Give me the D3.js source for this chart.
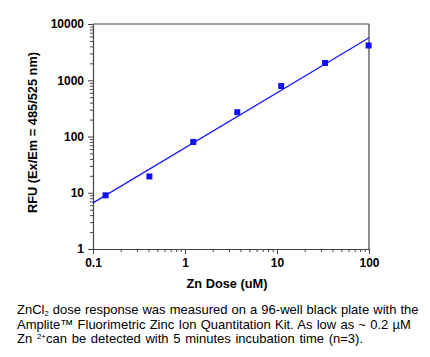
<!DOCTYPE html>
<html><head><meta charset="utf-8">
<script src="https://cdn.jsdelivr.net/npm/d3@7"></script>
<style>
html,body{margin:0;padding:0;background:#fff;}
svg{display:block;}
</style></head>
<body>
<svg id="chart" width="430" height="357"></svg>
<script>
// Data
const doses = [0.137, 0.41, 1.23, 3.7, 11.1, 33.3, 99];
const rfu = [9, 19.5, 80, 270, 790, 2030, 4150];
const fitDoses = [0.1, 100];
const fitRfu = [6.6, 5700];
const xTickValues = [0.1, 1, 10, 100];
const yTickValues = [1, 10, 100, 1000, 10000];
const xTitle = "Zn Dose (uM)";
const yTitle = "RFU (Ex/Em = 485/525 nm)";

const svg = d3.select("#chart");
const L = 93, R = 369, T = 24, B = 249;
const x = d3.scaleLog().domain([0.1, 100]).range([L, R]);
const y = d3.scaleLog().domain([1, 10000]).range([B, T]);
const axisColor = "#444";
const font = "Arial, 'Liberation Sans', sans-serif";

function minors(dom) {
  const out = [];
  for (let e = Math.log10(dom[0]); e < Math.log10(dom[1]); e++) {
    for (let k = 2; k <= 9; k++) out.push(k * Math.pow(10, e));
  }
  return out;
}

// frame top/right
svg.append("line").attr("x1", L).attr("x2", R).attr("y1", T).attr("y2", T)
  .attr("stroke", axisColor).attr("stroke-width", 1.2);
svg.append("line").attr("x1", R).attr("x2", R).attr("y1", T).attr("y2", B)
  .attr("stroke", axisColor).attr("stroke-width", 1.2);

// x axis
const gx = svg.append("g").attr("transform", `translate(0,${B})`);
gx.call(d3.axisBottom(x).tickValues(xTickValues).tickFormat(d => d3.format("~g")(d)).tickSize(5).tickPadding(4).tickSizeOuter(0));
gx.append("g").call(d3.axisBottom(x).tickValues(minors([0.1, 100])).tickFormat("").tickSize(3).tickSizeOuter(0))
  .select(".domain").remove();

// y axis
const gy = svg.append("g").attr("transform", `translate(${L},0)`);
gy.call(d3.axisLeft(y).tickValues(yTickValues).tickFormat(d => d3.format("d")(d)).tickSize(5).tickPadding(4).tickSizeOuter(0));
gy.append("g").call(d3.axisLeft(y).tickValues(minors([1, 10000])).tickFormat("").tickSize(3).tickSizeOuter(0))
  .select(".domain").remove();

svg.selectAll(".domain").attr("stroke", axisColor).attr("stroke-width", 1.2);
svg.selectAll(".tick line").attr("stroke", axisColor);
svg.selectAll(".tick text").attr("font-family", font).attr("font-weight", "bold")
  .attr("font-size", 12).attr("fill", "#000");

// fit line
svg.append("line")
  .attr("x1", x(fitDoses[0])).attr("y1", y(fitRfu[0]))
  .attr("x2", x(fitDoses[1])).attr("y2", y(fitRfu[1]))
  .attr("stroke", "#1a1aff").attr("stroke-width", 1.3);

// points
const s = 6;
svg.selectAll("rect.pt").data(doses.map((d, i) => [d, rfu[i]])).enter()
  .append("rect").attr("class", "pt")
  .attr("x", d => x(d[0]) - s / 2).attr("y", d => y(d[1]) - s / 2)
  .attr("width", s).attr("height", s).attr("fill", "#1010ff");

// titles
svg.append("text").attr("x", 227).attr("y", 288).attr("text-anchor", "middle")
  .attr("font-family", font).attr("font-weight", "bold").attr("font-size", 12.8)
  .text(xTitle);
svg.append("text").attr("transform", "translate(37,132.5) rotate(-90)").attr("text-anchor", "middle")
  .attr("font-family", font).attr("font-weight", "bold").attr("font-size", 12.8)
  .text(yTitle);

// caption
const cap = svg.append("g").attr("font-family", font).attr("font-size", 13).attr("fill", "#000")
  .style("white-space", "pre");
const l1 = cap.append("text").attr("x", 17).attr("y", 314).attr("word-spacing", 0.45);
l1.append("tspan").text("ZnCl");
l1.append("tspan").attr("font-size", 7.5).attr("dy", 1.5).text("2");
l1.append("tspan").attr("dy", -1.5).text(" dose response was measured on a 96-well black plate with the");
cap.append("text").attr("x", 17).attr("y", 328.5).attr("word-spacing", 0.6)
  .text("Amplite\u2122 Fluorimetric  Zinc  Ion Quantitation Kit. As low as ~ 0.2 \u00b5M");
const l3 = cap.append("text").attr("x", 17).attr("y", 343).attr("word-spacing", 1.1);
l3.append("tspan").text("Zn ");
l3.append("tspan").attr("font-size", 8).attr("dy", -4.5).text("2+");
l3.append("tspan").attr("dy", 4.5).text("can be detected with 5 minutes incubation time (n=3).");
</script>
</body></html>
